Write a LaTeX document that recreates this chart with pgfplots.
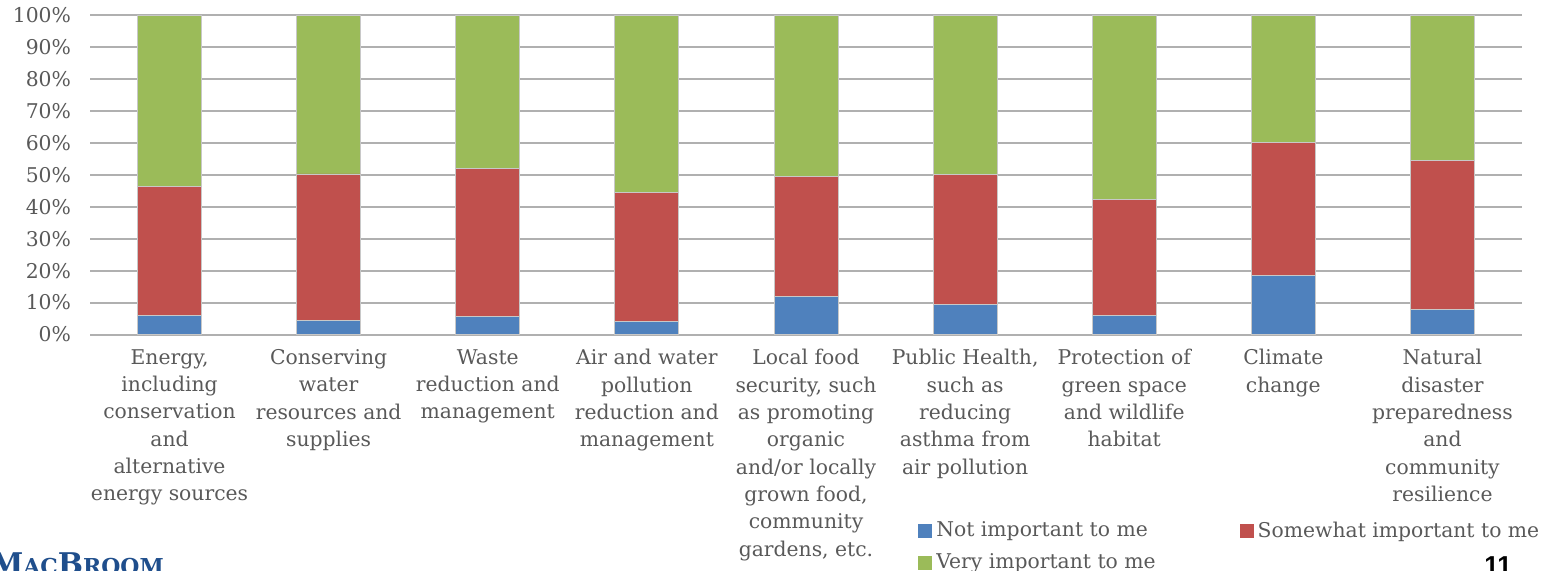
\documentclass[border=0pt]{standalone}
\usepackage{pgfplots}
\pgfplotsset{compat=1.18}
\usepackage{fontspec}
\setmainfont{DejaVu Serif}
\newfontfamily\numfont{Liberation Sans}
\definecolor{cblue}{HTML}{4F81BD}
\definecolor{cred}{HTML}{C0504D}
\definecolor{cgreen}{HTML}{9BBB59}
\definecolor{txtgray}{HTML}{595959}
\definecolor{gridgray}{HTML}{B0B0B0}
\definecolor{logoblue}{HTML}{1F4E8C}
\begin{document}
\begin{tikzpicture}
\path[use as bounding box] (-45bp,-118.25bp) rectangle (736bp,167.25bp);
\begin{axis}[
  at={(0,0)}, anchor=south west,
  scale only axis,
  width=716bp, height=159.6bp,
  ybar stacked,
  bar width=32bp,
  xmin=-0.5, xmax=8.5,
  ymin=0, ymax=100,
  xtick={0,1,2,3,4,5,6,7,8},
  xticklabels={
    {Energy,\\including\\conservation\\and\\alternative\\energy sources},
    {Conserving\\water\\resources and\\supplies},
    {Waste\\reduction and\\management},
    {Air and water\\pollution\\reduction and\\management},
    {Local food\\security, such\\as promoting\\organic\\and/or locally\\grown food,\\community\\gardens, etc.},
    {Public Health,\\such as\\reducing\\asthma from\\air pollution},
    {Protection of\\green space\\and wildlife\\habitat},
    {Climate\\change},
    {Natural\\disaster\\preparedness\\and\\community\\resilience}},
  ytick={0,10,20,30,40,50,60,70,80,90,100},
  yticklabels={0\%,10\%,20\%,30\%,40\%,50\%,60\%,70\%,80\%,90\%,100\%},
  major tick length=0pt,
  ymajorgrids,
  grid style={gridgray, line width=1bp},
  axis line style={draw=none},
  tick label style={text=txtgray, font=\fontsize{10.2}{13.7}\selectfont},
  xticklabel style={align=center, yshift=-4bp},
  yticklabel style={xshift=-6bp},
  legend style={
    at={(0.574,-0.56)}, anchor=north west,
    draw=none, fill=none,
    font=\fontsize{10.2}{13.7}\selectfont, text=txtgray,
    legend columns=2,
    /tikz/every even column/.append style={column sep=40bp},
    row sep=3bp,
    legend cell align=left,
  },
  legend image code/.code={\fill[#1,draw=none] (0bp,-3.5bp) rectangle (7bp,3.5bp);},
  every axis plot/.append style={draw={rgb,255:red,200;green,200;blue,200}, line width=0.4bp},
]
\addplot[fill=cblue] coordinates {(0,6.0) (1,4.5) (2,5.7) (3,4.2) (4,11.9) (5,9.4) (6,6.1) (7,18.6) (8,7.8)};
\addplot[fill=cred] coordinates {(0,40.3) (1,45.8) (2,46.2) (3,40.2) (4,37.7) (5,40.7) (6,36.3) (7,41.7) (8,46.6)};
\addplot[fill=cgreen] coordinates {(0,53.7) (1,49.7) (2,48.1) (3,55.6) (4,50.4) (5,49.9) (6,57.6) (7,39.7) (8,45.6)};
\legend{Not important to me, Somewhat important to me, Very important to me}
\end{axis}
\node[anchor=base west, text=logoblue, inner sep=0pt] at (-50bp,-120bp) {\fontsize{15}{15}\selectfont\bfseries M\fontsize{11}{11}\selectfont AC\fontsize{15}{15}\selectfont B\fontsize{11}{11}\selectfont ROOM};
\node[anchor=base west, inner sep=0pt] at (697bp,-120bp) {\numfont\bfseries\fontsize{13}{13}\selectfont 11};
\end{tikzpicture}
\end{document}
